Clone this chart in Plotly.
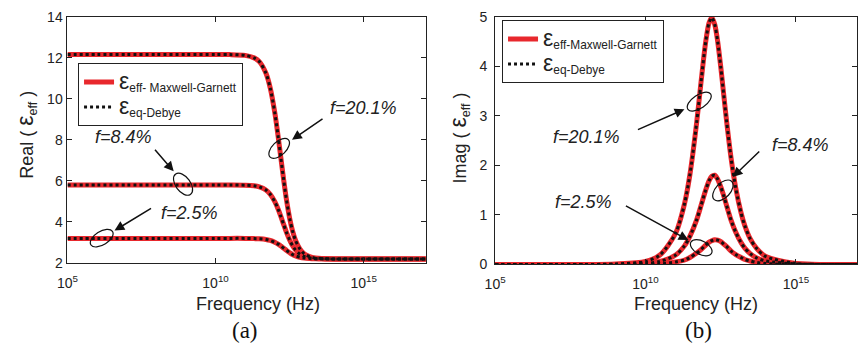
import math
import plotly.graph_objects as go

W, H = 858, 357

# ---------------- data ----------------
freq_hz = [1e5, 1e6, 1e7, 1e8, 1e9, 1e10, 3e10, 1e11, 2e11, 3e11, 5e11, 7e11,
           1e12, 1.3e12, 1.6e12, 2e12, 2.5e12, 3.2e12, 4e12, 5e12, 7e12, 1e13,
           1.5e13, 2e13, 3e13, 5e13, 1e14, 1e15, 1e16, 1.3e17]

real_201 = [12.15, 12.15, 12.15, 12.15, 12.15, 12.15, 12.15, 12.11, 11.99, 11.81, 11.25, 10.53,
            9.32, 8.15, 7.13, 6.04, 5.05, 4.16, 3.55, 3.11, 2.69, 2.44,
            2.31, 2.26, 2.23, 2.21, 2.20, 2.20, 2.20, 2.20]
real_084 = [5.80, 5.80, 5.80, 5.80, 5.80, 5.80, 5.80, 5.79, 5.76, 5.71, 5.56, 5.35,
            4.99, 4.62, 4.27, 3.87, 3.48, 3.11, 2.84, 2.64, 2.44, 2.32,
            2.26, 2.23, 2.21, 2.21, 2.20, 2.20, 2.20, 2.20]
real_025 = [3.20, 3.20, 3.20, 3.20, 3.20, 3.20, 3.20, 3.20, 3.19, 3.18, 3.15, 3.10,
            3.01, 2.92, 2.83, 2.72, 2.61, 2.50, 2.41, 2.35, 2.28, 2.24,
            2.22, 2.21, 2.21, 2.20, 2.20, 2.20, 2.20, 2.20]

imag_201 = [0.00, 0.00, 0.00, 0.00, 0.01, 0.06, 0.19, 0.63, 1.24, 1.82, 2.86, 3.68,
            4.49, 4.88, 4.98, 4.84, 4.50, 3.96, 3.41, 2.87, 2.14, 1.54,
            1.04, 0.78, 0.52, 0.32, 0.16, 0.02, 0.00, 0.00]
imag_084 = [0.00, 0.00, 0.00, 0.00, 0.00, 0.02, 0.06, 0.19, 0.38, 0.57, 0.90, 1.19,
            1.50, 1.69, 1.78, 1.80, 1.72, 1.56, 1.38, 1.18, 0.89, 0.65,
            0.44, 0.33, 0.22, 0.13, 0.07, 0.01, 0.00, 0.00]
imag_025 = [0.00, 0.00, 0.00, 0.00, 0.00, 0.00, 0.01, 0.05, 0.09, 0.14, 0.23, 0.30,
            0.39, 0.45, 0.48, 0.50, 0.49, 0.46, 0.41, 0.36, 0.27, 0.20,
            0.14, 0.10, 0.07, 0.04, 0.02, 0.00, 0.00, 0.00]

x_tick_vals = [1e5, 1e10, 1e15]
x_tick_text = ["10<sup>5</sup>", "10<sup>10</sup>", "10<sup>15</sup>"]
real_ticks = [2, 4, 6, 8, 10, 12, 14]
imag_ticks = [0, 1, 2, 3, 4, 5]

eps = '<span style="font-size:23px">ε</span>'
legend_mg_left = eps + "<sub>eff- Maxwell-Garnett</sub>"
legend_mg_right = eps + "<sub>eff-Maxwell-Garnett</sub>"
legend_debye = eps + "<sub>eq-Debye</sub>"

RED = "#e8282d"
BLACK = "#111111"
TXT = "#222222"
SANS = "Liberation Sans, Arial, sans-serif"

fig = go.Figure()

def add_panel(xa, ya, series, legend_name, mg_label):
    for i, ys in enumerate(series):
        fig.add_trace(go.Scatter(
            x=freq_hz, y=ys, mode="lines", xaxis=xa, yaxis=ya,
            line=dict(color=RED, width=5, shape="spline", smoothing=0.8),
            name=mg_label, showlegend=(i == 0), legend=legend_name,
            hoverinfo="skip"))
    for i, ys in enumerate(series):
        fig.add_trace(go.Scatter(
            x=freq_hz, y=ys, mode="lines", xaxis=xa, yaxis=ya,
            line=dict(color=BLACK, width=3, dash="dot", shape="spline", smoothing=0.8),
            name=legend_debye, showlegend=(i == 0), legend=legend_name,
            hoverinfo="skip"))

add_panel("x", "y", [real_201, real_084, real_025], "legend", legend_mg_left)
add_panel("x2", "y2", [imag_201, imag_084, imag_025], "legend2", legend_mg_right)

def px_x(p):
    return p / W

def px_y(p):
    return 1 - p / H

axis_common = dict(
    showline=True, linecolor=TXT, linewidth=1, mirror="ticks",
    ticks="inside", ticklen=5, tickcolor=TXT, tickwidth=1,
    showgrid=False, zeroline=False,
    tickfont=dict(family=SANS, size=14, color=TXT),
)

fig.update_layout(
    width=W, height=H,
    margin=dict(l=0, r=0, t=0, b=0),
    paper_bgcolor="white", plot_bgcolor="white",
    xaxis=dict(domain=[px_x(57.3), px_x(420.7)], type="log", range=[5, 17.1],
               tickvals=x_tick_vals, ticktext=x_tick_text, anchor="y",
               ticklabelstandoff=7, **axis_common),
    yaxis=dict(domain=[px_y(267), px_y(9)], range=[2, 14], tickvals=real_ticks,
               anchor="x", ticklabelstandoff=1, **axis_common),
    xaxis2=dict(domain=[px_x(491), 1.0], type="log", range=[5, 17.03],
                tickvals=x_tick_vals, ticktext=x_tick_text, anchor="y2",
                ticklabelstandoff=7, **axis_common),
    yaxis2=dict(domain=[px_y(268.5), px_y(9)], range=[0, 5], tickvals=imag_ticks,
                anchor="x2", ticklabelstandoff=4, **axis_common),
    legend=dict(x=px_x(68), y=px_y(58), xanchor="left", yanchor="top",
                bgcolor="white", bordercolor=TXT, borderwidth=1,
                font=dict(family=SANS, size=17, color=TXT), tracegroupgap=0),
    legend2=dict(x=px_x(498), y=px_y(13), xanchor="left", yanchor="top",
                 bgcolor="white", bordercolor=TXT, borderwidth=1,
                 font=dict(family=SANS, size=17, color=TXT), tracegroupgap=0),
)

# ---------------- annotations: labels, arrows, ellipses ----------------
ann = []

def label(text, x, y, size=18, family=SANS, angle=0, xanchor="center", color=TXT):
    ann.append(dict(text=text, x=px_x(x), y=px_y(y), xref="paper", yref="paper",
                    showarrow=False, xanchor=xanchor, yanchor="middle",
                    textangle=angle, font=dict(family=family, size=size, color=color)))

label("Frequency (Hz)", 250, 310)
label("Frequency (Hz)", 695, 310)
label("(a)", 237, 338, size=23, family="Liberation Serif, Times New Roman, serif", color="#111")
label("(b)", 697, 338, size=23, family="Liberation Serif, Times New Roman, serif", color="#111")
label('Real ( <span style="font-size:23px">ε</span><sub>eff</sub> )', 15, 133, angle=-90)
label('Imag ( <span style="font-size:23px">ε</span><sub>eff</sub> )', 454, 136, angle=-90)

notes = [  # text, text-left-x, text-y
    ("<i>f=20.1%</i>", 322, 105),
    ("<i>f=8.4%</i>", 83, 135),
    ("<i>f=2.5%</i>", 150, 215),
    ("<i>f=20.1%</i>", 548, 135),
    ("<i>f=8.4%</i>", 770, 143),
    ("<i>f=2.5%</i>", 550, 203),
]
for t, x, y in notes:
    label(t, x, y, xanchor="left")

arrows = [  # head (x, y), tail (x, y) in pixels
    ((285, 138), (317, 116)),
    ((165, 171), (145, 148)),
    ((105, 233), (143, 210)),
    ((683, 106), (635, 127)),
    ((732, 177), (760, 150)),
    ((687, 243), (623, 208)),
]
for (hx, hy), (tx, ty) in arrows:
    ann.append(dict(text="", x=px_x(hx), y=px_y(hy), xref="paper", yref="paper",
                    showarrow=True, axref="pixel", ayref="pixel",
                    ax=tx - hx, ay=ty - hy, arrowhead=2, arrowsize=1.3,
                    arrowwidth=1.5, arrowcolor="#111"))
fig.update_layout(annotations=ann)

def ellipse_path(cx, cy, a, b, ang):
    t = math.radians(ang)
    u = (math.cos(t), -math.sin(t))
    v = (math.sin(t), math.cos(t))
    k = 0.5523

    def P(ca, cb):
        x = cx + ca * u[0] + cb * v[0]
        y = cy + ca * u[1] + cb * v[1]
        return f"{px_x(x):.5f},{px_y(y):.5f}"

    segs = [
        "M" + P(a, 0),
        "C" + P(a, k * b) + " " + P(k * a, b) + " " + P(0, b),
        "C" + P(-k * a, b) + " " + P(-a, k * b) + " " + P(-a, 0),
        "C" + P(-a, -k * b) + " " + P(-k * a, -b) + " " + P(0, -b),
        "C" + P(k * a, -b) + " " + P(a, -k * b) + " " + P(a, 0),
        "Z",
    ]
    return " ".join(segs)

ellipses = [  # cx, cy, semi-major, semi-minor, angle (deg, up-right positive)
    (272, 147, 13, 7, 45),
    (174.5, 184.5, 13, 7.5, -55),
    (92, 241, 13, 7, 33),
    (698, 98, 14, 7, 35),
    (722, 191, 13, 7.5, 48),
    (700, 251, 12, 7, -30),
]
shapes = []
for cx, cy, a, b, ang in ellipses:
    shapes.append(dict(type="path", xref="paper", yref="paper",
                       path=ellipse_path(cx, cy, a, b, ang),
                       line=dict(color="#111", width=1.2), fillcolor="rgba(0,0,0,0)"))
fig.update_layout(shapes=shapes)

fig.write_html("out.html")
